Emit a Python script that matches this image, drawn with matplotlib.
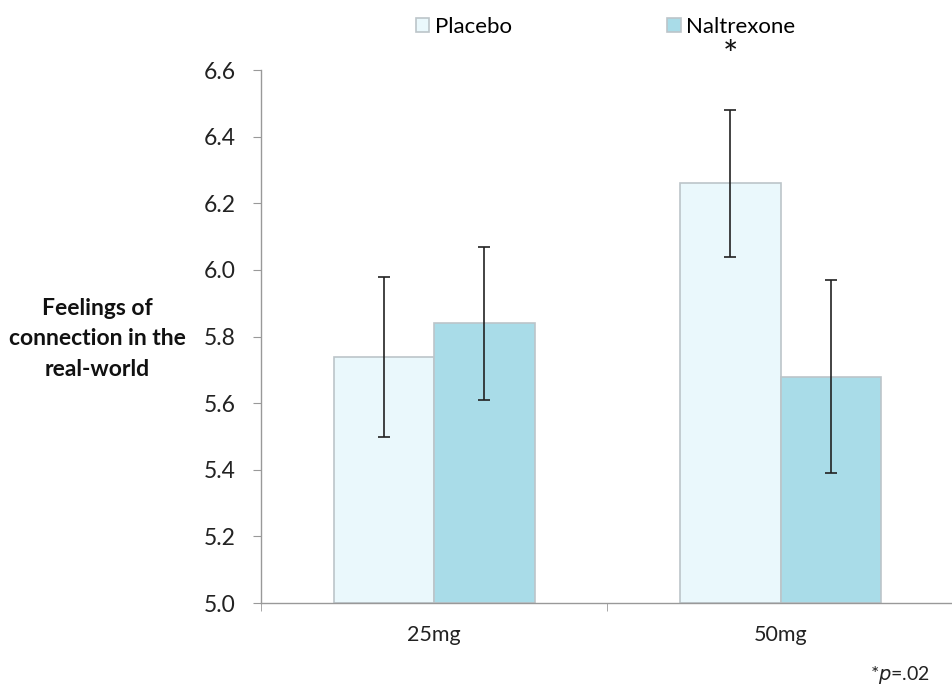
import matplotlib
matplotlib.use("Agg")
import matplotlib.pyplot as plt
import numpy as np

categories = ["25mg", "50mg"]
placebo = [5.74, 6.26]
placebo_err = [0.24, 0.22]
naltrexone = [5.84, 5.68]
naltrexone_err = [0.23, 0.29]
yticks = [5.0, 5.2, 5.4, 5.6, 5.8, 6.0, 6.2, 6.4, 6.6]

plt.rcParams['font.family'] = ['Lato', 'DejaVu Sans']

fig = plt.figure(figsize=(9.52, 6.94), dpi=100)
ax = fig.add_axes([0.274, 0.131, 0.728, 0.768])

x = np.arange(len(categories))
w = 0.29
c_pl = "#eaf8fc"
c_nal = "#a9dce8"
edge = "#bcc5c9"

ax.bar(x - w/2, [v - 5.0 for v in placebo], w, bottom=5.0, color=c_pl, edgecolor=edge, linewidth=1.2, label="Placebo", zorder=2)
ax.bar(x + w/2, [v - 5.0 for v in naltrexone], w, bottom=5.0, color=c_nal, edgecolor=edge, linewidth=1.2, label="Naltrexone", zorder=2)
ax.errorbar(x - w/2, placebo, yerr=placebo_err, fmt='none', ecolor='#222222', elinewidth=1.2, capsize=4, capthick=1.2, zorder=3)
ax.errorbar(x + w/2, naltrexone, yerr=naltrexone_err, fmt='none', ecolor='#222222', elinewidth=1.2, capsize=4, capthick=1.2, zorder=3)

ax.set_xlim(-0.5, 1.5)
ax.set_ylim(5.0, 6.6)
ax.set_yticks(yticks)
ax.set_yticklabels([f"{t:.1f}" for t in yticks], fontsize=16.5, color="#222222")
ax.set_xticks(x)
ax.set_xticklabels(categories, fontsize=15.5, color="#222222")
ax.set_xticks([-0.5, 0.5, 1.5], minor=True)
ax.tick_params(axis='x', which='major', length=0, pad=16)
ax.tick_params(axis='x', which='minor', length=6, color="#999999", direction='out')
ax.tick_params(axis='y', length=6, color="#999999", direction='out', pad=12)

for s in ['top', 'right']:
    ax.spines[s].set_visible(False)
for s in ['left', 'bottom']:
    ax.spines[s].set_color("#999999")
    ax.spines[s].set_linewidth(1.0)

fig.text(0.102, 0.512, "Feelings of\nconnection in the\nreal-world", ha='center', va='center',
         fontsize=16.5, fontweight='bold', color="#111111", linespacing=1.55)

leg = fig.legend(loc='upper center', bbox_to_anchor=(0.636, 1.005), ncol=2, frameon=False,
                 fontsize=16, handlelength=0.6, handleheight=0.6, handletextpad=0.25, columnspacing=7.0)

ax.text(1 - w/2, 6.64, "*", ha='center', va='center', fontsize=26, color="#111111", clip_on=False)
fig.text(0.977, 0.027, r"*$\it{p}$=.02", ha='right', va='center', fontsize=14, color="#222222")

fig.savefig("out.png", dpi=100)
